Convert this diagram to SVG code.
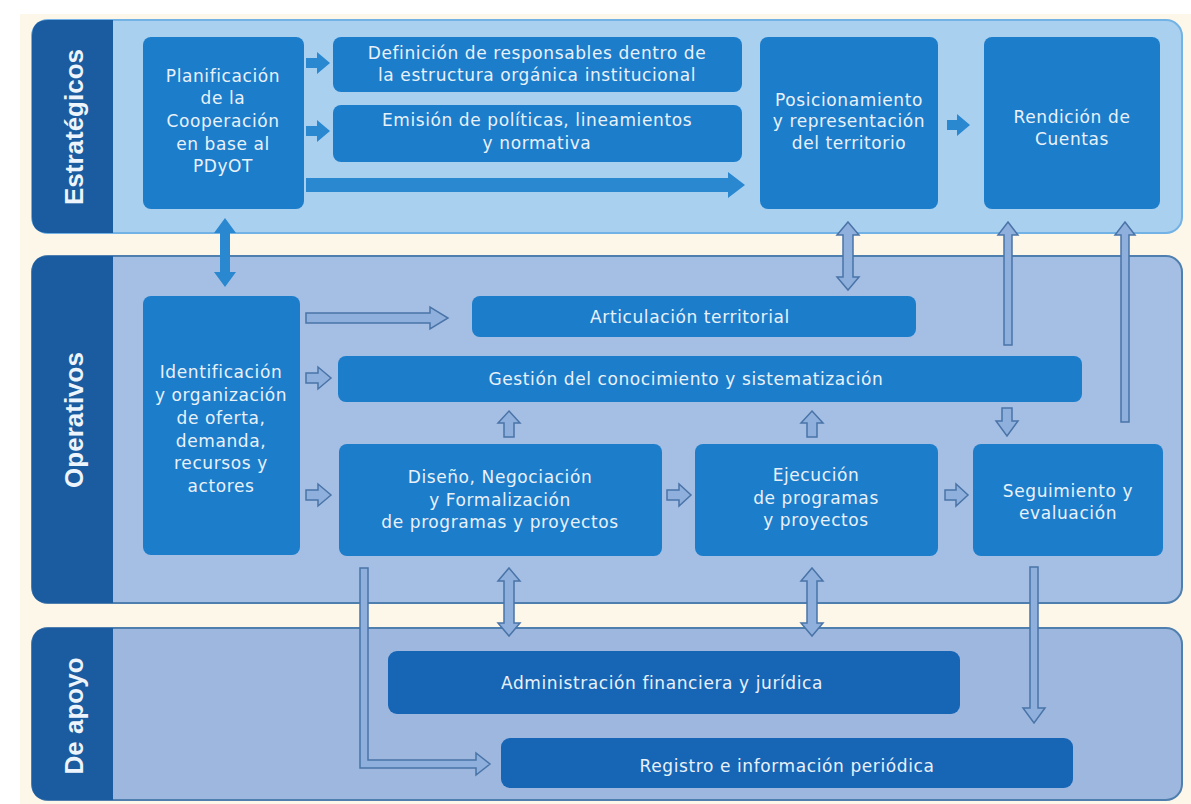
<svg xmlns="http://www.w3.org/2000/svg" width="1191" height="804" viewBox="0 0 1191 804">
<defs>
<style>
.node{fill:#1c7dca}
.node2{fill:#1765b5}
.t{font-family:"DejaVu Sans","Liberation Sans",sans-serif;font-size:17px;letter-spacing:0.6px;fill:#e8f1fa;text-anchor:middle}
.lab{font-family:"Liberation Sans",Arial,sans-serif;font-weight:bold;font-size:26px;fill:#eef4fb;text-anchor:middle}
.oa{fill:#8fb0dc;stroke:#4a74a8;stroke-width:1.5}
.sa{fill:#2a88d0}
.col{fill:#1a5c9f}
</style>
</defs>
<rect width="1191" height="804" fill="#ffffff"/>
<rect x="20" y="14" width="1171" height="790" fill="#fdf7ea"/>

<g id="lane-estrategicos">
<rect x="32" y="20" width="1150" height="213" rx="16" fill="#aad0f0" stroke="#72b2e4" stroke-width="2"/>
<path class="col" d="M113,20 H48 Q32,20 32,36 V217 Q32,233 48,233 H113 Z"/>
<text class="lab" transform="translate(83,127) rotate(-90)">Estratégicos</text>
</g>
<g id="lane-operativos">
<rect x="32" y="256" width="1150" height="347" rx="16" fill="#a5bfe4" stroke="#4f7fae" stroke-width="2"/>
<path class="col" d="M113,256 H48 Q32,256 32,272 V587 Q32,603 48,603 H113 Z"/>
<text class="lab" transform="translate(83,420) rotate(-90)">Operativos</text>
</g>
<g id="lane-apoyo">
<rect x="32" y="628" width="1150" height="172" rx="16" fill="#9db7df" stroke="#4f7fae" stroke-width="2"/>
<path class="col" d="M113,628 H48 Q32,628 32,644 V784 Q32,800 48,800 H113 Z"/>
<text class="lab" transform="translate(83,716) rotate(-90)">De apoyo</text>
</g>

<g id="n-planificacion">
<rect class="node" x="143" y="37" width="161" height="172" rx="8"/>
<text class="t" x="223" y="82">Planificación</text>
<text class="t" x="223" y="104">de la</text>
<text class="t" x="223" y="127">Cooperación</text>
<text class="t" x="223" y="150">en base al</text>
<text class="t" x="223" y="172">PDyOT</text>
</g>
<g id="n-definicion">
<rect class="node" x="333" y="37" width="409" height="55" rx="8"/>
<text class="t" x="537" y="59">Definición de responsables dentro de</text>
<text class="t" x="537" y="81">la estructura orgánica institucional</text>
</g>
<g id="n-emision">
<rect class="node" x="333" y="105" width="409" height="57" rx="8"/>
<text class="t" x="537" y="126">Emisión de  políticas, lineamientos</text>
<text class="t" x="537" y="149">y normativa</text>
</g>
<g id="n-posicionamiento">
<rect class="node" x="760" y="37" width="178" height="172" rx="8"/>
<text class="t" x="849" y="106">Posicionamiento</text>
<text class="t" x="849" y="127">y representación</text>
<text class="t" x="849" y="149">del territorio</text>
</g>
<g id="n-rendicion">
<rect class="node" x="984" y="37" width="176" height="172" rx="8"/>
<text class="t" x="1072" y="123">Rendición de</text>
<text class="t" x="1072" y="145">Cuentas</text>
</g>
<g id="n-identificacion">
<rect class="node" x="143" y="296" width="157" height="259" rx="8"/>
<text class="t" x="221" y="378">Identificación</text>
<text class="t" x="221" y="401">y organización</text>
<text class="t" x="221" y="424">de oferta,</text>
<text class="t" x="221" y="447">demanda,</text>
<text class="t" x="221" y="469">recursos y</text>
<text class="t" x="221" y="492">actores</text>
</g>
<g id="n-articulacion">
<rect class="node" x="472" y="296" width="444" height="41" rx="8"/>
<text class="t" x="690" y="323">Articulación territorial</text>
</g>
<g id="n-gestion">
<rect class="node" x="338" y="356" width="744" height="46" rx="8"/>
<text class="t" x="686" y="385">Gestión del conocimiento y sistematización</text>
</g>
<g id="n-diseno">
<rect class="node" x="339" y="444" width="323" height="112" rx="8"/>
<text class="t" x="500" y="483">Diseño, Negociación</text>
<text class="t" x="500" y="506">y Formalización</text>
<text class="t" x="500" y="528">de programas y proyectos</text>
</g>
<g id="n-ejecucion">
<rect class="node" x="695" y="444" width="243" height="112" rx="8"/>
<text class="t" x="816" y="481">Ejecución</text>
<text class="t" x="816" y="504">de programas</text>
<text class="t" x="816" y="526">y proyectos</text>
</g>
<g id="n-seguimiento">
<rect class="node" x="973" y="444" width="190" height="112" rx="8"/>
<text class="t" x="1068" y="497">Seguimiento y</text>
<text class="t" x="1068" y="519">evaluación</text>
</g>
<g id="n-administracion">
<rect class="node2" x="388" y="651" width="572" height="63" rx="9"/>
<text class="t" x="662" y="689">Administración financiera y jurídica</text>
</g>
<g id="n-registro">
<rect class="node2" x="501" y="738" width="572" height="50" rx="9"/>
<text class="t" x="787" y="772">Registro e información periódica</text>
</g>

<g id="connectors">
<polygon class="sa" points="306,58 317,58 317,52 330,63 317,74 317,68 306,68"/>
<polygon class="sa" points="306,126 317,126 317,120 330,131 317,142 317,136 306,136"/>
<polygon class="sa" points="306,178 728,178 728,172 745,185 728,198 728,192 306,192"/>
<polygon class="sa" points="947,120 957,120 957,114 970,125 957,136 957,130 947,130"/>
<polygon class="sa" points="225,218 236,233 230,233 230,272 236,272 225,287 214,272 220,272 220,233 214,233"/>

<polygon class="oa" points="306,313 430,313 430,307 448,318 430,329 430,323 306,323"/>
<polygon class="oa" points="306,373 318,373 318,367 331,378 318,389 318,383 306,383"/>
<polygon class="oa" points="306,490 318,490 318,484 331,495 318,506 318,500 306,500"/>
<polygon class="oa" points="667,490 679,490 679,484 691,495 679,506 679,500 667,500"/>
<polygon class="oa" points="945,490 956,490 956,484 968,495 956,506 956,500 945,500"/>
<polygon class="oa" points="509,411 520,423 514,423 514,437 504,437 504,423 498,423"/>
<polygon class="oa" points="812,411 823,423 817,423 817,437 807,437 807,423 801,423"/>
<polygon class="oa" points="1002,408 1012,408 1012,421 1018,421 1007,436 996,421 1002,421"/>
<polygon class="oa" points="848,222 859,235 853,235 853,277 859,277 848,290 837,277 843,277 843,235 837,235"/>
<polygon class="oa" points="1008,222 1018,235 1012,235 1012,345 1004,345 1004,235 998,235"/>
<polygon class="oa" points="1125,222 1135,235 1129,235 1129,422 1121,422 1121,235 1115,235"/>
<polygon class="oa" points="509,568 520,581 514,581 514,623 520,623 509,636 498,623 504,623 504,581 498,581"/>
<polygon class="oa" points="812,568 823,581 817,581 817,623 823,623 812,636 801,623 807,623 807,581 801,581"/>
<polygon class="oa" points="360,568 368,568 368,760 476,760 476,753 490,764 476,775 476,768 360,768"/>
<polygon class="oa" points="1030,567 1038,567 1038,708 1045,708 1034,723 1023,708 1030,708"/>
</g>
</svg>
